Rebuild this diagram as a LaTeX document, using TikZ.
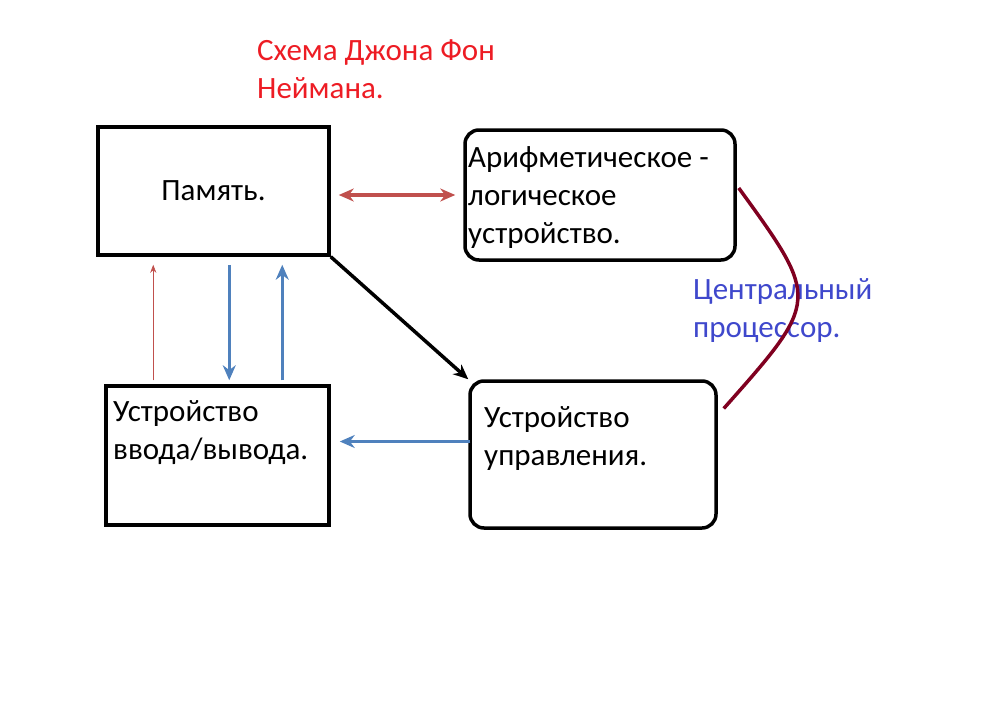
\documentclass[tikz,border=0pt]{standalone}
\usepackage{fontspec}
\setmainfont{Carlito}
\usetikzlibrary{positioning,calc,arrows.meta}
\definecolor{redarrow}{RGB}{192,80,77}
\definecolor{bluearrow}{RGB}{79,129,189}
\definecolor{cpucurve}{RGB}{128,0,32}
\definecolor{titlered}{RGB}{237,28,36}
\definecolor{cpublue}{RGB}{63,72,204}
\tikzset{
  unit/.style={draw=black,line width=3.5pt,inner sep=0pt},
  roundunit/.style={unit,rounded corners=14pt},
  lbl/.style={inner sep=0pt,anchor=west,align=left,font=\fontsize{31}{38}\selectfont},
  flow/.style={line width=3.5pt,-{Stealth[length=15pt,width=13pt]}},
}
\begin{document}
\begin{tikzpicture}[x=1pt,y=-1pt]
\useasboundingbox (0,0) rectangle (987,720);
\node[unit,minimum width=231pt,minimum height=128pt] (mem) at (213.5,191) {};
\node[roundunit,minimum width=270pt,minimum height=130pt] (alu) at (600,195) {};
\node[unit,minimum width=223pt,minimum height=139pt] (io) at (217.5,455.5) {};
\node[roundunit,minimum width=246pt,minimum height=147pt] (cu) at (593,454.5) {};
\node[lbl,anchor=center] (memtext) at (mem) {Память.};
\node[lbl] (alutext) at (468,198) {Арифметическое -\\логическое\\устройство.};
\node[lbl] (iotext) at (113,433) {Устройство\\ввода/вывода.};
\node[lbl] (cutext) at (484,439) {Устройство\\управления.};
\node[lbl,text=titlered] (title) at (257,69) {Схема Джона Фон\\Неймана.};
\node[lbl,text=cpublue] (cpu) at (693,311) {Центральный\\процессор.};
% connectors
\draw[flow,draw=redarrow,{Stealth[length=15pt,width=13pt]}-{Stealth[length=15pt,width=13pt]}]
  ($(mem.east)+(8,4)$) -- ($(alu.west)+(-8,0)$);
\draw[redarrow,line width=0.6pt,-{Stealth[length=8pt,width=6pt]}] ($(io.north west)+(49,-4)$) -- ($(mem.south west)+(57,8)$);
\draw[flow,draw=bluearrow] ($(mem.south west)+(133,8)$) -- ($(io.north west)+(125,-4)$);
\draw[flow,draw=bluearrow] ($(io.north west)+(178,-4)$) -- ($(mem.south west)+(186,8)$);
\draw[flow,draw=black] (mem.south east) -- (cu.north west);
\draw[flow,draw=bluearrow] ($(cu.west)+(2,-13)$) -- ($(io.east)+(9,-14)$);
\draw[cpucurve,line width=3.5pt] ($(alu.east)+(2,-7)$) .. controls (820,300) .. ($(cu.east)+(6,-46)$);
\end{tikzpicture}
\end{document}
